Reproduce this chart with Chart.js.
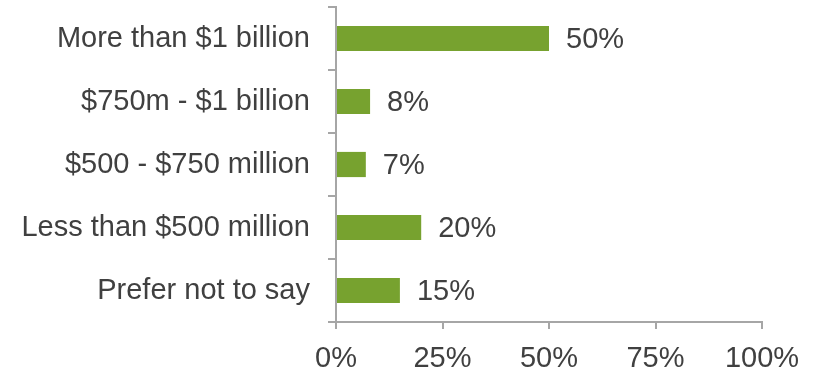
<!DOCTYPE html>
<html>
<head>
<meta charset="utf-8">
<script src="https://cdn.jsdelivr.net/npm/chart.js@4/dist/chart.umd.min.js"></script>
<style>
  html, body { margin: 0; padding: 0; background: #fff; }
  #wrap { width: 819px; height: 375px; }
</style>
</head>
<body>
<div id="wrap"><canvas id="revenueChart"></canvas></div>
<script>
const categories = [
  'More than $1 billion',
  '$750m - $1 billion',
  '$500 - $750 million',
  'Less than $500 million',
  'Prefer not to say'
];
const shares = [50, 8, 7, 20, 15];
const xTicks = [0, 25, 50, 75, 100];

const barColor = '#77a22f';
const textColor = '#404040';
const axisColor = '#a6a6a6';
const fontFamily = '"Liberation Sans", Arial, sans-serif';
const fontSize = 29;

// writes the percentage just past the end of each bar
const valueLabels = {
  id: 'valueLabels',
  afterDatasetsDraw(chart) {
    const ctx = chart.ctx;
    const meta = chart.getDatasetMeta(0);
    ctx.save();
    ctx.font = fontSize + 'px ' + fontFamily;
    ctx.fillStyle = textColor;
    ctx.textAlign = 'left';
    ctx.textBaseline = 'middle';
    meta.data.forEach((bar, i) => {
      ctx.fillText(shares[i] + '%', bar.x + 17, bar.y + 1);
    });
    ctx.restore();
  }
};

new Chart(document.getElementById('revenueChart'), {
  type: 'bar',
  data: {
    labels: categories,
    datasets: [{
      data: shares,
      backgroundColor: barColor,
      borderWidth: 0,
      categoryPercentage: 1,
      barPercentage: 0.4
    }]
  },
  options: {
    indexAxis: 'y',
    responsive: true,
    maintainAspectRatio: false,
    animation: false,
    layout: { padding: { top: 7, right: 57, left: 0, bottom: 0 } },
    plugins: {
      legend: { display: false },
      tooltip: { enabled: false }
    },
    scales: {
      x: {
        min: 0,
        max: 100,
        afterBuildTicks(scale) {
          scale.ticks = xTicks.map(v => ({ value: v }));
        },
        afterFit(scale) {
          scale.height = 53;
          scale.paddingLeft = 0;
          scale.paddingRight = 0;
        },
        border: { color: axisColor, width: 2 },
        grid: {
          drawOnChartArea: false,
          drawTicks: true,
          tickLength: 7,
          color: axisColor,
          lineWidth: 2
        },
        ticks: {
          color: textColor,
          font: { family: fontFamily, size: fontSize },
          padding: 13,
          callback: v => v + '%'
        }
      },
      y: {
        afterFit(scale) {
          scale.width = 336;
          scale.paddingTop = 0;
          scale.paddingBottom = 0;
        },
        border: { color: axisColor, width: 2 },
        grid: {
          offset: true,
          drawOnChartArea: false,
          tickLength: 8,
          color: axisColor,
          lineWidth: 2
        },
        ticks: {
          color: textColor,
          font: { family: fontFamily, size: fontSize },
          padding: 18
        }
      }
    }
  },
  plugins: [valueLabels]
});
</script>
</body>
</html>
